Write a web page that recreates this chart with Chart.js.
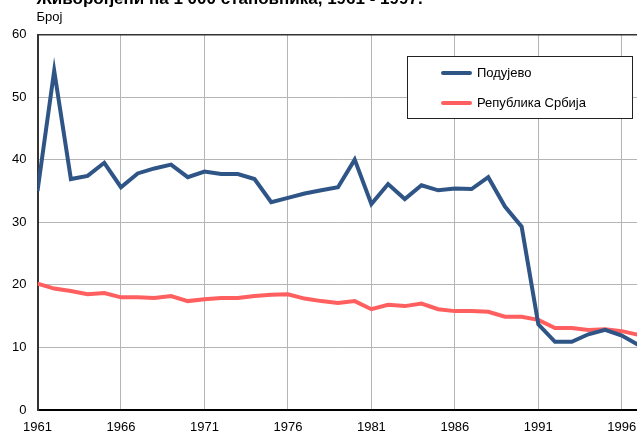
<!DOCTYPE html>
<html>
<head>
<meta charset="utf-8">
<script src="https://cdn.jsdelivr.net/npm/chart.js@4/dist/chart.umd.min.js"></script>
<style>
html,body{margin:0;padding:0;overflow:hidden;background:#fff;width:637px;height:434px;}
#wrap{position:absolute;left:0;top:0;width:680px;height:434px;}
</style>
</head>
<body>
<div id="wrap"><canvas id="c" width="680" height="434"></canvas></div>
<script>
const titleText = "Живорођени на 1 000 становника, 1961 - 1997.";
const yAxisTitle = "Број";
const years = [1961,1962,1963,1964,1965,1966,1967,1968,1969,1970,1971,1972,1973,1974,1975,1976,1977,1978,1979,1980,1981,1982,1983,1984,1985,1986,1987,1988,1989,1990,1991,1992,1993,1994,1995,1996,1997];
const podujevo = [35.0,54.2,36.9,37.4,39.5,35.6,37.8,38.6,39.2,37.2,38.1,37.7,37.7,36.9,33.2,33.9,34.6,35.1,35.6,40.0,32.9,36.1,33.7,35.9,35.1,35.4,35.3,37.2,32.5,29.3,13.7,10.9,10.9,12.1,12.8,11.9,10.4];
const srbija = [20.2,19.4,19.0,18.5,18.7,18.0,18.0,17.9,18.2,17.4,17.7,17.9,17.9,18.2,18.4,18.5,17.8,17.4,17.1,17.4,16.1,16.8,16.6,17.0,16.1,15.8,15.8,15.7,14.9,14.9,14.4,13.1,13.1,12.8,12.9,12.6,12.0];
const seriesNames = ["Подујево","Република Србија"];
const xTicks = [1961,1966,1971,1976,1981,1986,1991,1996];
const yTicks = [0,10,20,30,40,50,60];

const FONT = '"Liberation Sans", Arial, sans-serif';

const overlay = {
  id: 'overlay',
  afterDraw(chart) {
    const ctx = chart.ctx;
    const ca = chart.chartArea;
    ctx.save();
    // title (cropped at top)
    ctx.fillStyle = '#000';
    ctx.font = 'bold 17px ' + FONT;
    ctx.textBaseline = 'alphabetic';
    ctx.textAlign = 'left';
    ctx.fillText(titleText, ca.left - 1, 4);
    // y axis title
    ctx.font = '13px ' + FONT;
    ctx.fillText(yAxisTitle, ca.left - 1, 21);
    // legend box
    const bx = 407.5, by = 56.5, bw = 225, bh = 62;
    ctx.fillStyle = '#fff';
    ctx.fillRect(bx, by, bw, bh);
    ctx.strokeStyle = '#222';
    ctx.lineWidth = 1;
    ctx.strokeRect(bx, by, bw, bh);
    chart.data.datasets.forEach((ds, i) => {
      const y = 73 + i * 30;
      ctx.strokeStyle = ds.borderColor;
      ctx.lineWidth = 4;
      ctx.lineCap = 'round';
      ctx.beginPath();
      ctx.moveTo(443, y);
      ctx.lineTo(470, y);
      ctx.stroke();
      ctx.fillStyle = '#000';
      ctx.font = '13px ' + FONT;
      ctx.textBaseline = 'middle';
      ctx.fillText(ds.label, 477, y);
    });
    ctx.restore();
  }
};

new Chart(document.getElementById('c'), {
  type: 'line',
  data: {
    datasets: [
      { label: seriesNames[0], data: years.map((x,i)=>({x:x,y:podujevo[i]})), borderColor:'#2f5587', borderWidth:4, pointRadius:0, tension:0, borderJoinStyle:'miter' },
      { label: seriesNames[1], data: years.map((x,i)=>({x:x,y:srbija[i]})), borderColor:'#ff5f5f', borderWidth:4, pointRadius:0, tension:0 }
    ]
  },
  options: {
    responsive:false,
    animation:false,
    layout:{ padding:{ top:34.5, right:41.5, bottom:0, left:0 } },
    plugins:{ legend:{display:false}, tooltip:{enabled:false} },
    scales:{
      x:{
        type:'linear', min:1961, max:1997,
        afterBuildTicks(s){ s.ticks = xTicks.map(v=>({value:v})); },
        afterFit(s){ s.height = 24; },
        grid:{ color:'#b5b5b5', lineWidth:1, drawTicks:false },
        border:{ color:'#000', width:2 },
        ticks:{ color:'#000', font:{family:FONT,size:13}, padding:10, maxRotation:0, autoSkip:false, callback:v=>String(v) }
      },
      y:{
        min:0, max:60,
        afterBuildTicks(s){ s.ticks = yTicks.map(v=>({value:v})); },
        afterFit(s){ s.width = 37.5; },
        grid:{ color:(c)=> c.tick && c.tick.value===60 ? '#333' : '#b5b5b5', lineWidth:(c)=> c.tick && c.tick.value===60 ? 1.5 : 1, drawTicks:false },
        border:{ color:'#333', width:2 },
        ticks:{ color:'#000', font:{family:FONT,size:13}, padding:11 }
      }
    }
  },
  plugins:[overlay]
});
</script>
</body>
</html>
